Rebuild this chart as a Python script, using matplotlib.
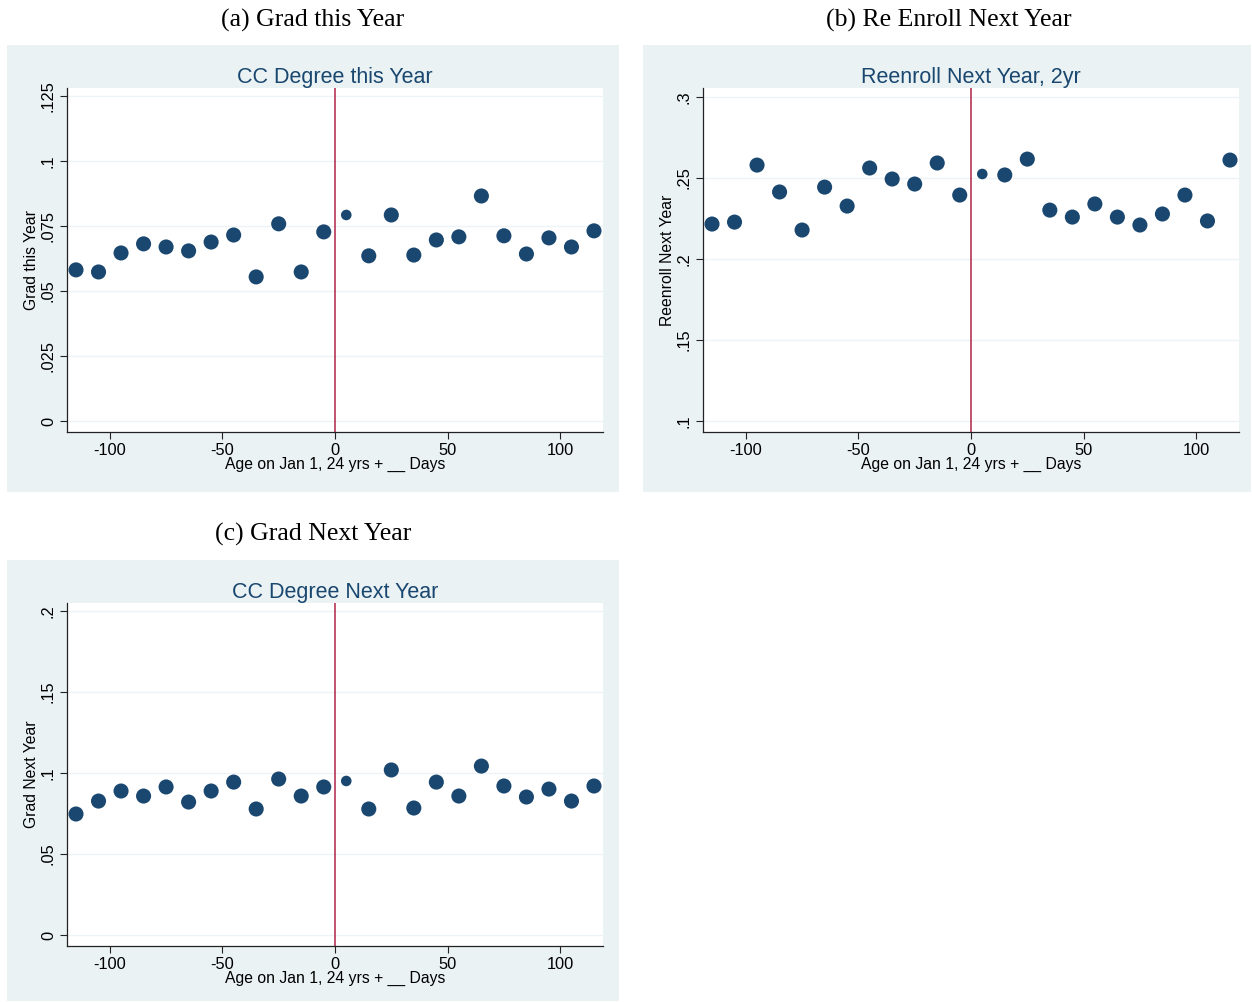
import matplotlib
matplotlib.use("Agg")
from matplotlib import pyplot as plt
from matplotlib.ticker import FuncFormatter
import numpy as np

# running variable: 10-day bins around the Jan 1 cutoff
days = [-115, -105, -95, -85, -75, -65, -55, -45, -35, -25, -15, -5,
        5, 15, 25, 35, 45, 55, 65, 75, 85, 95, 105, 115]

grad_this_year = [0.0581, 0.0573, 0.0646, 0.0681, 0.0669, 0.0654, 0.0688, 0.0715,
                  0.0554, 0.0758, 0.0573, 0.0727, 0.0792, 0.0635, 0.0792, 0.0638,
                  0.0696, 0.0708, 0.0865, 0.0712, 0.0642, 0.0704, 0.0669, 0.0731]

reenroll_next_year = [0.2216, 0.2228, 0.2580, 0.2414, 0.2179, 0.2444, 0.2327, 0.2562,
                      0.2494, 0.2463, 0.2593, 0.2395, 0.2525, 0.2519, 0.2617, 0.2302,
                      0.2259, 0.2340, 0.2259, 0.2210, 0.2278, 0.2395, 0.2235, 0.2611]

grad_next_year = [0.0747, 0.0827, 0.0889, 0.0858, 0.0914, 0.0821, 0.0889, 0.0944,
                  0.0778, 0.0963, 0.0858, 0.0914, 0.0951, 0.0778, 0.1019, 0.0784,
                  0.0944, 0.0858, 0.1043, 0.0920, 0.0852, 0.0901, 0.0827, 0.0920]

yticks_a = [0, 0.025, 0.05, 0.075, 0.1, 0.125]
yticks_b = [0.1, 0.15, 0.2, 0.25, 0.3]
yticks_c = [0, 0.05, 0.1, 0.15, 0.2]
xticks = [-100, -50, 0, 50, 100]

W, H = 1252, 1002
BG = "#eaf2f3"
NAVY = "#1a476f"
LINE = "#b0244a"

plt.rcParams["font.family"] = ["Liberation Sans", "DejaVu Sans"]
plt.rcParams["axes.unicode_minus"] = False
fig = plt.figure(figsize=(W / 100, H / 100), dpi=100)


def box(x0, y0, x1, y1):
    return [x0 / W, 1 - y1 / H, (x1 - x0) / W, (y1 - y0) / H]


def stata_fmt(v, pos):
    s = ("%g" % round(v, 4))
    if s.startswith("0."):
        s = s[1:]
    return s


def panel(frame, plot, header, hx, hy, title, ylabel, y, yticks, ylim):
    # shaded graph region behind the plot area
    bg = fig.add_axes(box(*frame), zorder=-5)
    bg.set_facecolor(BG)
    bg.set_xticks([])
    bg.set_yticks([])
    for s in bg.spines.values():
        s.set_visible(False)

    fig.text(hx / W, 1 - hy / H, header, ha="center", va="center",
             family="Liberation Serif", fontsize=18.5)

    ax = fig.add_axes(box(*plot))
    ax.set_facecolor("white")
    sizes = [58 if d == 5 else 118 for d in days]
    ax.scatter(days, y, s=sizes, color=NAVY, edgecolors="none", zorder=3)
    ax.axvline(0, color=LINE, lw=1.1, zorder=2)

    ax.set_xlim(-119, 119)
    ax.set_ylim(*ylim)
    ax.set_xticks(xticks)
    ax.set_yticks(yticks)
    ax.yaxis.set_major_formatter(FuncFormatter(stata_fmt))
    ax.grid(axis="y", color="#eef4f5", lw=1.0, zorder=1)
    for side in ["top", "right"]:
        ax.spines[side].set_visible(False)
    for side in ["left", "bottom"]:
        ax.spines[side].set_color("#222222")
        ax.spines[side].set_linewidth(0.9)
    ax.tick_params(direction="out", length=5, width=0.8, color="#222222",
                   labelsize=11.8, pad=3)
    for lab in ax.get_yticklabels():
        lab.set_rotation(90)
        lab.set_va("center")
    ax.set_title(title, color=NAVY, fontsize=15.5, pad=3)
    ax.set_xlabel("Age on Jan 1, 24 yrs + __ Days", fontsize=11.3, labelpad=-1)
    ax.set_ylabel(ylabel, fontsize=11.3, labelpad=1)
    return ax


panel((7, 45, 619, 492), (67, 88, 603, 432), "(a) Grad this Year", 313, 20,
      "CC Degree this Year", "Grad this Year", grad_this_year, yticks_a, (-0.0042, 0.128))

panel((643, 45, 1251, 492), (703, 88, 1239, 432), "(b) Re Enroll Next Year", 949, 20,
      "Reenroll Next Year, 2yr", "Reenroll Next Year", reenroll_next_year, yticks_b,
      (0.0932, 0.3056))

panel((7, 560, 619, 1001), (67, 603, 603, 946), "(c) Grad Next Year", 313, 534,
      "CC Degree Next Year", "Grad Next Year", grad_next_year, yticks_c, (-0.0068, 0.205))

fig.savefig("out.png", dpi=100, facecolor="white")
